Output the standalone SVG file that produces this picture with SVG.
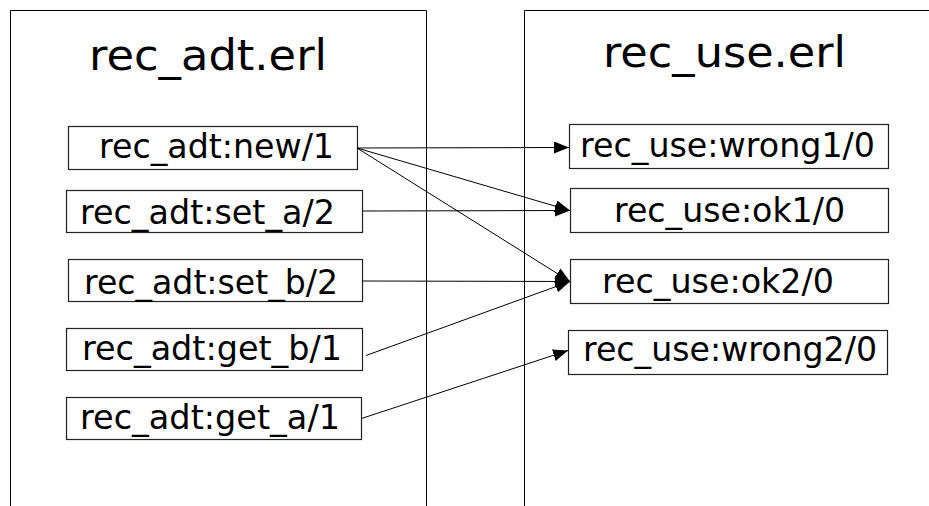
<svg xmlns="http://www.w3.org/2000/svg" width="929" height="506" viewBox="0 0 929 506">
<style>
.frame{fill:none;stroke:#000;stroke-width:1}
.box{fill:#fff;stroke:#222;stroke-width:1.2}
.t{font-family:"DejaVu Sans",sans-serif;fill:#000}
.title{font-size:42px}
.lbl{font-size:33px}
.edge{fill:none;stroke:#000;stroke-width:1;marker-end:url(#arr)}
</style>
<defs>
<marker id="arr" markerUnits="userSpaceOnUse" markerWidth="16" markerHeight="12" refX="15" refY="6" orient="auto">
<path d="M0,0 L15,6 L0,12 z" fill="#000"/>
</marker>
</defs>
<rect width="929" height="506" fill="#fff"/>
<g id="rec_adt_module">
<path class="frame" d="M10.5,506 V10.5 H426.5 V506"/>
<text class="t title" x="89" y="70" textLength="238" lengthAdjust="spacingAndGlyphs">rec_adt.erl</text>
</g>
<g id="rec_use_module">
<path class="frame" d="M524.5,506 V10.5 H930"/>
<text class="t title" x="603" y="67" textLength="243" lengthAdjust="spacingAndGlyphs">rec_use.erl</text>
</g>
<g id="adt_new">
<rect class="box" x="68.5" y="126.5" width="289" height="43"/>
<text class="t lbl" x="99" y="158" textLength="235" lengthAdjust="spacingAndGlyphs">rec_adt:new/1</text>
</g>
<g id="adt_set_a">
<rect class="box" x="66.5" y="190.5" width="296" height="42"/>
<text class="t lbl" x="80" y="224" textLength="255" lengthAdjust="spacingAndGlyphs">rec_adt:set_a/2</text>
</g>
<g id="adt_set_b">
<rect class="box" x="68.5" y="259.5" width="294" height="42"/>
<text class="t lbl" x="84" y="294" textLength="254" lengthAdjust="spacingAndGlyphs">rec_adt:set_b/2</text>
</g>
<g id="adt_get_b">
<rect class="box" x="66.5" y="328.5" width="296" height="42"/>
<text class="t lbl" x="82" y="360" textLength="260" lengthAdjust="spacingAndGlyphs">rec_adt:get_b/1</text>
</g>
<g id="adt_get_a">
<rect class="box" x="66.5" y="397.5" width="295" height="42"/>
<text class="t lbl" x="80" y="429" textLength="260" lengthAdjust="spacingAndGlyphs">rec_adt:get_a/1</text>
</g>
<g id="use_wrong1">
<rect class="box" x="569.5" y="124.5" width="319" height="44"/>
<text class="t lbl" x="580" y="157" textLength="295" lengthAdjust="spacingAndGlyphs">rec_use:wrong1/0</text>
</g>
<g id="use_ok1">
<rect class="box" x="570.5" y="188.5" width="318" height="44"/>
<text class="t lbl" x="614" y="222" textLength="231" lengthAdjust="spacingAndGlyphs">rec_use:ok1/0</text>
</g>
<g id="use_ok2">
<rect class="box" x="570.5" y="259.5" width="318" height="44"/>
<text class="t lbl" x="602" y="293" textLength="232" lengthAdjust="spacingAndGlyphs">rec_use:ok2/0</text>
</g>
<g id="use_wrong2">
<rect class="box" x="568.5" y="330.5" width="319" height="44"/>
<text class="t lbl" x="583" y="360.5" textLength="294" lengthAdjust="spacingAndGlyphs">rec_use:wrong2/0</text>
</g>
<g id="connectors">
<line class="edge" x1="357" y1="148" x2="569" y2="147.5"/>
<line class="edge" x1="357" y1="148" x2="570" y2="210.5"/>
<line class="edge" x1="357" y1="148" x2="570" y2="281.5"/>
<line class="edge" x1="362.5" y1="211" x2="570" y2="210.5"/>
<line class="edge" x1="362.5" y1="281" x2="570" y2="281.5"/>
<line class="edge" x1="366" y1="355.5" x2="570" y2="281.5"/>
<line class="edge" x1="361.5" y1="418.5" x2="568" y2="350.5"/>
</g>
</svg>
